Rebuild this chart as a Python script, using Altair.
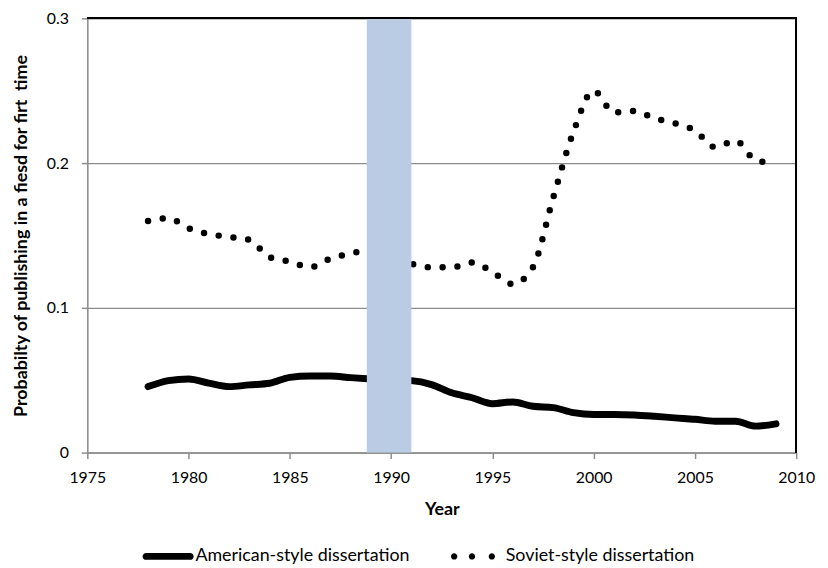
import altair as alt
import pandas as pd

years = list(range(1978, 2010))
american = [0.0456, 0.0497, 0.0509, 0.0480, 0.0456, 0.0468, 0.0479, 0.0520,
            0.0529, 0.0529, 0.0518, 0.0509, 0.0502, 0.0497, 0.0470, 0.0413,
            0.0379, 0.0338, 0.0350, 0.0320, 0.0311, 0.0276, 0.0263, 0.0263,
            0.0260, 0.0251, 0.0240, 0.0230, 0.0217, 0.0217, 0.0183, 0.0199]
soviet = [0.160, 0.162, 0.155, 0.151, 0.149, 0.147, 0.135, 0.132,
          0.128, 0.134, 0.1375, 0.140, 0.135, 0.1305, 0.128, 0.128,
          0.1314, 0.1248, 0.1164, 0.128, 0.176, 0.2215, 0.250, 0.235,
          0.236, 0.231, 0.2275, 0.2225, 0.211, 0.2155, 0.202, 0.200]
series_names = ["American-style dissertation", "Soviet-style dissertation"]
band_start, band_end = 1988.8, 1991.0
x_ticks = [1975, 1980, 1985, 1990, 1995, 2000, 2005, 2010]
y_ticks = [0, 0.1, 0.2, 0.3]
x_min, x_max = 1975, 2010
y_min, y_max = 0, 0.3

df = pd.DataFrame({
    "Year": years + years,
    "value": american + soviet,
    "series": [series_names[0]] * len(years) + [series_names[1]] * len(years),
})

FONT = "Lato"
GREY = "#8c8c8c"

x_scale = alt.Scale(domain=[x_min, x_max], nice=False, zero=False)
y_scale = alt.Scale(domain=[y_min, y_max], nice=False)

x_axis = alt.Axis(values=x_ticks, format="d", title="Year", grid=False,
                  tickSize=6, tickColor=GREY, tickWidth=1.5,
                  domainColor=GREY, domainWidth=1.5,
                  labelPadding=11, labelFontSize=16, labelFont=FONT,
                  labelColor="black", labelFlush=False,
                  titlePadding=15, titleFontSize=18, titleFont=FONT,
                  titleFontWeight="bold", titleColor="black")
y_axis = alt.Axis(values=y_ticks,
                  labelExpr="datum.value == 0 ? '0' : format(datum.value, '.1f')",
                  title="Probabilty of publishing in a fiesd for firt\u00a0 time",
                  grid=True, gridColor=GREY, gridWidth=1.3,
                  tickSize=6, tickColor=GREY, tickWidth=1.5,
                  domainColor=GREY, domainWidth=1.5,
                  labelPadding=13, labelFontSize=16, labelFont=FONT,
                  labelColor="black",
                  titlePadding=15.5, titleFontSize=18, titleFont=FONT,
                  titleFontWeight="bold", titleColor="black")

base = alt.Chart(df)

american_line = base.transform_filter(
    alt.datum.series == series_names[0]
).mark_line(color="black", strokeWidth=7, strokeCap="round",
            strokeJoin="round", interpolate="monotone").encode(
    x=alt.X("Year:Q", scale=x_scale, axis=x_axis),
    y=alt.Y("value:Q", scale=y_scale, axis=y_axis),
)

soviet_line = base.transform_filter(
    alt.datum.series == series_names[1]
).mark_line(color="black", strokeWidth=6.5, strokeCap="round",
            strokeDash=[0, 15], interpolate="monotone").encode(
    x=alt.X("Year:Q", scale=x_scale, axis=x_axis),
    y=alt.Y("value:Q", scale=y_scale, axis=y_axis),
)

solid_path = ("M-0.873,-0.135 L0.873,-0.135 A0.135,0.135 0 0 1 0.873,0.135 "
              "L-0.873,0.135 A0.135,0.135 0 0 1 -0.873,-0.135 Z")


def dot(cx, r=0.125):
    return (f"M{cx - r},0 A{r},{r} 0 1 1 {cx + r},0 "
            f"A{r},{r} 0 1 1 {cx - r},0 Z ")


dots_path = dot(-0.96) + dot(-0.255) + dot(0.53)

legend_layer = base.transform_filter("false").mark_point(
    filled=True, color="black", size=2601, opacity=1
).encode(
    x=alt.X("Year:Q", scale=x_scale, axis=x_axis),
    y=alt.Y("value:Q", scale=y_scale, axis=y_axis),
    shape=alt.Shape("series:N",
                    scale=alt.Scale(domain=series_names,
                                    range=[solid_path, dots_path]),
                    legend=alt.Legend(orient="none", legendX=56, legendY=517,
                                      direction="horizontal", title=None,
                                      labelFontSize=18, labelFont=FONT,
                                      labelColor="black", labelOffset=2,
                                      labelLimit=0,
                                      columnPadding=40, symbolSize=2601,
                                      symbolFillColor="black",
                                      symbolStrokeWidth=0)),
)

band = alt.Chart(pd.DataFrame({"start": [band_start], "end": [band_end]})).mark_rect(
    color="#b9cce4"
).encode(
    x=alt.X("start:Q", scale=x_scale, axis=x_axis),
    x2="end:Q",
    y=alt.Y(datum=y_min, scale=y_scale, axis=y_axis),
    y2=alt.Y2(datum=y_max),
)

top_border = alt.Chart(df).mark_rule(color="black", strokeWidth=1.5).encode(
    x=alt.X(datum=x_min, scale=x_scale, axis=x_axis),
    x2=alt.X2(datum=x_max),
    y=alt.Y(datum=y_max, scale=y_scale, axis=y_axis),
)
right_border = alt.Chart(df).mark_rule(color="black", strokeWidth=1.5).encode(
    x=alt.X(datum=x_max, scale=x_scale, axis=x_axis),
    y=alt.Y(datum=y_min, scale=y_scale, axis=y_axis),
    y2=alt.Y2(datum=y_max),
)

chart = alt.layer(
    american_line, soviet_line, legend_layer, band, top_border, right_border
).properties(
    width=715, height=438,
    padding={"top": 0, "left": 5, "right": 5, "bottom": 5},
).configure_view(stroke=None).configure(font=FONT)

chart.save("out.html", embed_options={"renderer": "svg", "actions": False})
